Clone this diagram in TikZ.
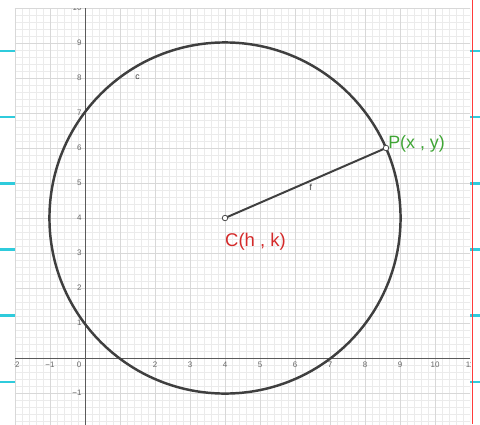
\documentclass[tikz,border=0pt]{standalone}
\usepackage{fontspec}
\setmainfont{Liberation Sans}
\definecolor{tickgray}{HTML}{6A6A6A}
\definecolor{minorgrid}{HTML}{EBEBEB}
\definecolor{majorgrid}{HTML}{D8D8D8}
\definecolor{axisgray}{HTML}{5A5A5A}
\definecolor{curvegray}{HTML}{3F3F3F}
\definecolor{plabel}{HTML}{3FA535}
\definecolor{clabel}{HTML}{D42A2A}
\definecolor{redline}{HTML}{FF3B3B}
\definecolor{cyanmark}{HTML}{2FCBDC}
\begin{document}
\begin{tikzpicture}[x=1cm,y=1cm,
  tick/.style={text=tickgray, font=\fontsize{6.5}{7}\selectfont, inner sep=0pt},
  minorline/.style={draw=minorgrid, line width=0.4pt},
  majorline/.style={draw=majorgrid, line width=0.7pt},
  axisline/.style={draw=axisgray, line width=0.8pt},
  curve/.style={draw=curvegray, line width=2pt},
  ptmark/.style={circle, draw=curvegray, fill=white, line width=0.6pt, minimum size=4.5pt, inner sep=0pt},
  objlabel/.style={text=curvegray, font=\fontsize{7}{8}\selectfont, inner sep=0pt},
  cyanbar/.style={draw=cyanmark, line width=1.9pt}]
\useasboundingbox (-2.4286,-1.8857) rectangle (11.2857,10.2286);
\fill[white] (-2.4286,-1.8857) rectangle (11.2857,10.2286);
\begin{scope}
\clip (-2,-1.8857) rectangle (11,10);
\draw[minorline, step=0.2] (-2,-2) grid (11,10);
\draw[majorline, step=1] (-2,-2) grid (11,10);
\draw[axisline] (-2,0) -- (11,0);
\draw[axisline] (0,-2) -- (0,10);
% x tick labels
\foreach \v/\t in {-2/−2,-1/−1,2/2,3/3,4/4,5/5,6/6,7/7,8/8,9/9,10/10,11/11}
  \node[tick, anchor=north] (xl\v) at (\v,-0.1) {\t};
\node[tick, anchor=north east] (xl0) at (-0.1,-0.1) {0};
% y tick labels
\foreach \v/\t in {-1/−1,1/1,2/2,3/3,4/4,5/5,6/6,7/7,8/8,9/9,10/10}
  \node[tick, anchor=east] (yl\v) at (-0.09,\v) {\t};
\end{scope}
% cyan marks and red line
\foreach \i in {0,...,5}{
  \draw[cyanbar] (-2.4286,{8.77-1.89*\i}) -- (-2,{8.77-1.89*\i});
  \draw[cyanbar] (11,{8.77-1.89*\i}) -- (11.2857,{8.77-1.89*\i});
}
\draw[draw=redline, line width=1pt] (11.08,-1.8857) -- (11.08,10.2286);
% circle and radius
\coordinate (C) at (4,4);
\coordinate (P) at (8.6,6);
\draw[curve] (C) circle ({sqrt(4.6*4.6+2*2)});
\draw[curve, line width=1.6pt] (C) -- (P);
\node[ptmark] (Cpt) at (C) {};
\node[ptmark] (Ppt) at (P) {};
\node[objlabel, anchor=base] (clab) at (1.5,7.95) {c};
\node[objlabel, anchor=base] (flab) at (6.45,4.8) {f};
\node[text=plabel, font=\fontsize{14.5}{16}\selectfont, anchor=base west, inner sep=0pt] (plab) at (8.66,5.98) {P(x , y)};
\node[text=clabel, font=\fontsize{15}{17}\selectfont, anchor=base west, inner sep=0pt] (clab2) at (4.0,3.2) {C(h , k)};
\end{tikzpicture}
\end{document}
